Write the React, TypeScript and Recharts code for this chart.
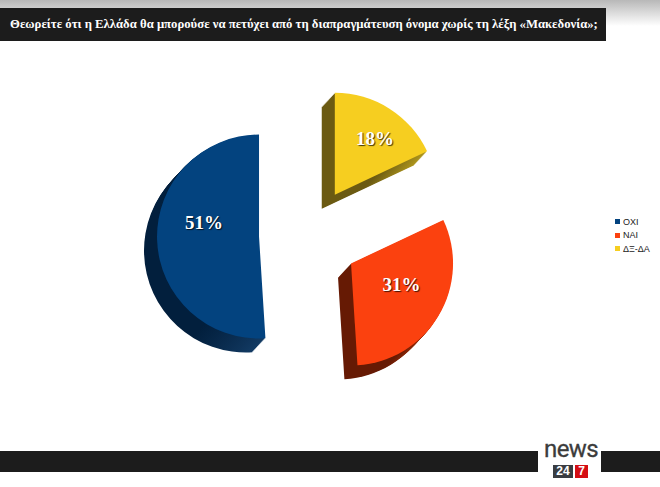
import { PieChart, Pie, Legend, Sector } from 'recharts'

const CATEGORIES = ['ΟΧΙ', 'ΝΑΙ', 'ΔΞ-ΔΑ']
const VALUES = [51, 31, 18]
const FACE_COLORS = ['#03437f', '#fb410f', '#f6ce20']
const SIDE_DARK = ['#021f3d', '#661a04', '#6b5a12']
const SIDE_LIGHT = ['#123a63', '#c2380c', '#ad951c']
const SLICE_NUDGE = [[0, -1], [-1, 2], [-1, 1]]
const LABEL_NUDGE = [[7, -17], [-4, -9], [6, -3]]
const TITLE = 'Θεωρείτε ότι η Ελλάδα θα μπορούσε να πετύχει από τη διαπραγμάτευση όνομα χωρίς τη λέξη «Μακεδονία»;'

const RADIAN = Math.PI / 180
const EXPLODE = 50
const DEPTH = 14

const tableData = CATEGORIES.map((name, i) => ({ name, value: VALUES[i], fill: FACE_COLORS[i] }))

// exploded slice with a fake 3d side wall, stacked copies shifted down-left
function Slice3D(props: any) {
  const { cx, cy, outerRadius, startAngle, endAngle, midAngle, index, fill } = props
  const x = cx + EXPLODE * Math.cos(midAngle * RADIAN) + SLICE_NUDGE[index][0]
  const y = cy - EXPLODE * Math.sin(midAngle * RADIAN) + SLICE_NUDGE[index][1]
  const layers = []
  for (let i = DEPTH; i > 0; i--) layers.push(i)
  return (
    <g>
      <defs>
        <linearGradient id={`side-${index}`} x1="0" y1="0" x2="1" y2="0">
          <stop offset="0%" stopColor={SIDE_DARK[index]} />
          <stop offset="45%" stopColor={SIDE_DARK[index]} />
          <stop offset="100%" stopColor={SIDE_LIGHT[index]} />
        </linearGradient>
      </defs>
      {layers.map((i) => (
        <Sector
          key={i}
          cx={x - i * 0.93}
          cy={y + i}
          innerRadius={0}
          outerRadius={outerRadius}
          startAngle={startAngle}
          endAngle={endAngle}
          fill={`url(#side-${index})`}
          stroke="none"
        />
      ))}
      <Sector
        cx={x}
        cy={y}
        innerRadius={0}
        outerRadius={outerRadius}
        startAngle={startAngle}
        endAngle={endAngle}
        fill={fill}
        stroke="none"
      />
    </g>
  )
}

function SliceLabel(props: any) {
  const { cx, cy, midAngle, index, value } = props
  const r = EXPLODE + 62
  const x = cx + r * Math.cos(midAngle * RADIAN) + LABEL_NUDGE[index][0]
  const y = cy - r * Math.sin(midAngle * RADIAN) + LABEL_NUDGE[index][1]
  return (
    <text
      x={x}
      y={y}
      textAnchor="middle"
      dominantBaseline="central"
      fill="#fff"
      fontFamily="'Liberation Serif', serif"
      fontWeight="bold"
      fontSize={19}
      style={{ textShadow: '1px 1px 1px rgba(0,0,0,0.75)' }}
    >
      {value}%
    </text>
  )
}

function LegendList() {
  return (
    <div style={{ fontFamily: "'Liberation Sans', sans-serif", fontSize: 9, color: '#222' }}>
      {tableData.map((d) => (
        <div key={d.name} style={{ display: 'flex', alignItems: 'center', height: 13.5 }}>
          <span style={{ width: 5, height: 5, background: d.fill, marginRight: 3 }} />
          {d.name}
        </div>
      ))}
    </div>
  )
}

const bar = { position: 'absolute' as const, background: '#1c1c1c' }

export default function App() {
  return (
    <div style={{ position: 'absolute', left: 0, top: 0, width: 660, height: 487, background: '#fff', overflow: 'hidden' }}>
      <div style={{ position: 'absolute', left: 0, top: 0, width: 660, height: 26, background: 'linear-gradient(#b8b8b8, #ffffff)' }} />
      <div style={{ ...bar, left: 0, top: 8, width: 606, height: 33, color: '#fff', fontFamily: "'Liberation Serif', serif", fontWeight: 'bold', fontSize: 12.72, lineHeight: '33px', paddingLeft: 10, boxSizing: 'border-box', whiteSpace: 'nowrap' }}>
        {TITLE}
      </div>

      <PieChart width={660} height={487} style={{ position: 'absolute', left: 0, top: 0 }} margin={{ top: 0, right: 0, bottom: 0, left: 0 }}>
        <Pie
          data={tableData}
          dataKey="value"
          nameKey="name"
          cx={309}
          cy={236}
          innerRadius={0}
          outerRadius={102}
          startAngle={90}
          endAngle={450}
          stroke="none"
          shape={Slice3D}
          label={SliceLabel}
          labelLine={false}
          isAnimationActive={false}
        />
        <Legend content={LegendList} wrapperStyle={{ position: 'absolute', left: 615, top: 215, width: 45 }} />
      </PieChart>

      <div style={{ ...bar, left: 0, top: 451, width: 538, height: 21 }} />
      <div style={{ ...bar, left: 601, top: 451, width: 59, height: 21 }} />
      <div style={{ position: 'absolute', left: 544, top: 438, fontFamily: "Roboto, sans-serif", fontSize: 24, letterSpacing: -0.6, color: '#3c3c3c', lineHeight: '22px', WebkitTextStroke: '0.3px #3c3c3c' }}>news</div>
      <div style={{ position: 'absolute', left: 553, top: 465, width: 20, height: 13, background: '#3a3d42', color: '#fff', fontFamily: "'Liberation Sans', sans-serif", fontWeight: 'bold', fontSize: 12, lineHeight: '13px', textAlign: 'center' }}>24</div>
      <div style={{ position: 'absolute', left: 575, top: 465, width: 13, height: 13, background: '#d40e14', color: '#fff', fontFamily: "'Liberation Sans', sans-serif", fontWeight: 'bold', fontSize: 12, lineHeight: '13px', textAlign: 'center' }}>7</div>
    </div>
  )
}
